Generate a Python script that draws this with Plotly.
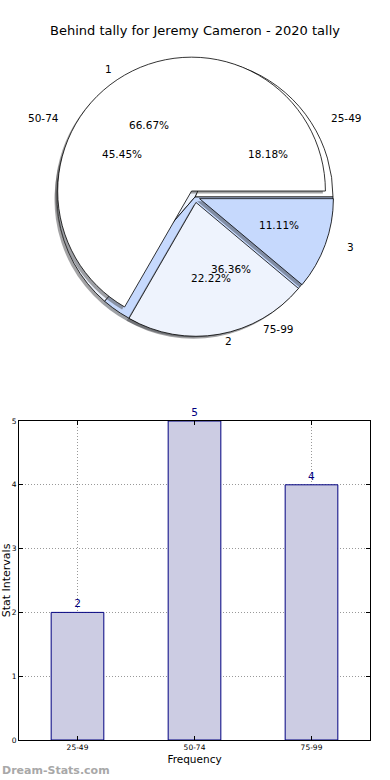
import math
import plotly.graph_objects as go

# ---------------- data ----------------
interval_labels = ["25-49", "50-74", "75-99"]
interval_counts = [2, 5, 4]
tally_labels = ["1", "2", "3"]
tally_counts = [6, 2, 1]
y_ticks = [0, 1, 2, 3, 4, 5]

title_text = "Behind tally for Jeremy Cameron - 2020 tally"

# ---------------- styling / geometry ----------------
W, H = 390, 780
slice_colors = ["#ffffff", "#eef3fd", "#c6d9fd"]
pie_cx, pie_cy = 195, 197          # px
R_A = 138                          # px radius of outer pie
scale_B = 0.97                     # relative radius of inner pie
explode_A = [0.0, 0.0, 0.0]
explode_B = [0.05, 0.04, 0.035]
text_rx, text_ry = 145, 132        # text placement radii (px per unit)
shadow_dx, shadow_dy = -2.5, 2.5
FONT = "DejaVu Sans"

fig = go.Figure()


def pie_domain(radius, max_pull, dx=0, dy=0):
    half = radius * (1 + max_pull)
    cx, cy = pie_cx + dx, pie_cy + dy
    return dict(x=[(cx - half) / W, (cx + half) / W],
                y=[1 - (cy + half) / H, 1 - (cy - half) / H])


def shadow_color(hexc):
    r, g, b = int(hexc[1:3], 16), int(hexc[3:5], 16), int(hexc[5:7], 16)
    return "rgba(%d,%d,%d,0.5)" % (0.3 * r, 0.3 * g, 0.3 * b)


def start_rotation(values):
    # plotly's counterclockwise pies end the first slice at `rotation`;
    # rotate so the first slice starts at 3 o'clock like matplotlib
    return 90 - 360.0 * values[0] / sum(values)


def add_pie(labels, values, radius, pulls, name):
    mp = max(pulls)
    rot = start_rotation(values)
    fig.add_trace(go.Pie(
        labels=labels, values=values, sort=False, direction="counterclockwise",
        rotation=rot, pull=pulls, textinfo="none", hoverinfo="skip",
        marker=dict(colors=[shadow_color(c) for c in slice_colors], line=dict(width=0)),
        domain=pie_domain(radius, mp, shadow_dx, shadow_dy), showlegend=False,
        name=name + " shadow"))
    fig.add_trace(go.Pie(
        labels=labels, values=values, sort=False, direction="counterclockwise",
        rotation=rot, pull=pulls, textinfo="none", hoverinfo="label+value+percent",
        marker=dict(colors=slice_colors, line=dict(color="black", width=0.8)),
        domain=pie_domain(radius, mp), showlegend=False, name=name))


def pie_texts(labels, values, explode, scale):
    total = sum(values)
    cum = 0.0
    for lab, v, e in zip(labels, values, explode):
        frac = v / total
        mid = math.radians(360 * (cum + frac / 2))
        cum += frac
        c, s = math.cos(mid), math.sin(mid)
        ox, oy = pie_cx + e * text_rx * c, pie_cy - e * text_ry * s
        px_, py_ = ox + 0.6 * scale * text_rx * c, oy - 0.6 * scale * text_ry * s
        fig.add_annotation(x=px_ / W, y=1 - py_ / H, xref="paper", yref="paper",
                           text="%.2f%%" % (100 * frac), showarrow=False,
                           xanchor="center", yanchor="middle",
                           font=dict(family=FONT, size=10.5, color="black"))
        lx, ly = ox + 1.1 * scale * text_rx * c, oy - 1.1 * scale * text_ry * s
        fig.add_annotation(x=lx / W, y=1 - ly / H, xref="paper", yref="paper",
                           text=lab, showarrow=False,
                           xanchor="left" if c > 0 else "right", yanchor="middle",
                           font=dict(family=FONT, size=10.5, color="black"))


add_pie(interval_labels, interval_counts, R_A, explode_A, "intervals")
add_pie(tally_labels, tally_counts, R_A * scale_B,
        [e / scale_B for e in explode_B], "tally")
pie_texts(interval_labels, interval_counts, explode_A, 1.0)
pie_texts(tally_labels, tally_counts, explode_B, scale_B)

# ---------------- bar chart ----------------
fig.add_trace(go.Bar(
    x=interval_labels, y=interval_counts, width=0.45,
    marker=dict(color="rgb(204,204,227)", line=dict(color="#000080", width=1)),
    text=[str(v) for v in interval_counts], textposition="outside",
    textfont=dict(family=FONT, size=10.5, color="#000080"),
    cliponaxis=False, showlegend=False, xaxis="x", yaxis="y"))

ax_x0, ax_x1 = 19, 370
ax_y0, ax_y1 = 421, 740
grid_dash = "1px,2px"

fig.update_layout(
    width=W, height=H,
    margin=dict(l=0, r=0, t=0, b=0, autoexpand=False),
    paper_bgcolor="white", plot_bgcolor="white",
    font=dict(family=FONT, color="black"),
    title=dict(text=title_text, x=0.5, xanchor="center", y=1 - 30 / H,
               yanchor="middle", font=dict(family=FONT, size=13, color="black")),
    xaxis=dict(domain=[ax_x0 / W, ax_x1 / W], range=[-0.5, 2.5], automargin=False,
               showline=True, linecolor="black", linewidth=1, mirror="ticks",
               ticks="inside", ticklen=4, tickcolor="black",
               showgrid=True, gridcolor="#999999", griddash=grid_dash, gridwidth=1,
               tickfont=dict(family=FONT, size=7.5, color="black"),
               title=dict(text="Frequency", standoff=4,
                          font=dict(family=FONT, size=10.5, color="black")),
               fixedrange=True),
    yaxis=dict(domain=[1 - ax_y1 / H, 1 - ax_y0 / H], range=[0, 5], automargin=False,
               tickvals=y_ticks, showline=True, linecolor="black", linewidth=1,
               mirror="ticks", ticks="inside", ticklen=4, tickcolor="black",
               showgrid=True, gridcolor="#999999", griddash=grid_dash, gridwidth=1,
               zeroline=False,
               tickfont=dict(family=FONT, size=7.5, color="black"),
               title=dict(text="Stat Intervals", standoff=1,
                          font=dict(family=FONT, size=11, color="black")),
               fixedrange=True),
)

fig.add_annotation(x=0, y=1 - 770 / H, xref="paper", yref="paper",
                   text="<b>Dream-Stats.com</b>", showarrow=False,
                   xanchor="left", yanchor="middle",
                   font=dict(family=FONT, size=11, color="#a8a8a8"))

fig.write_html("out.html",
               config={"displayModeBar": False},
               post_script="document.body.style.margin='0';"
                           "document.body.style.overflow='hidden';")
